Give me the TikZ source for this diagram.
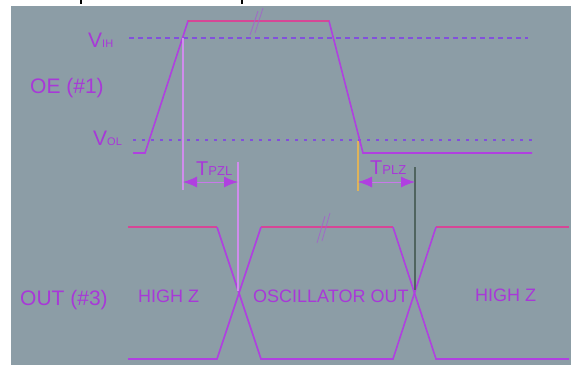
\documentclass[tikz,border=0pt]{standalone}
\usepackage{fontspec}
\setmainfont{Liberation Sans}
\usetikzlibrary{arrows.meta}
\definecolor{bg}{RGB}{140,157,166}
\definecolor{sig}{RGB}{176,64,224}
\definecolor{sigtop}{RGB}{214,70,150}
\definecolor{txt}{RGB}{168,56,216}
\definecolor{dash}{RGB}{130,80,220}
\definecolor{darkref}{RGB}{80,100,95}
\newcommand{\fs}[1]{\fontsize{#1}{#1}\selectfont}
\begin{document}
\begin{tikzpicture}[x=1pt,y=-1pt,
  sigline/.style={draw=sig,line width=1.6pt,line join=miter},
  hiline/.style={draw=sigtop,line width=1.8pt},
  refline/.style={draw=sig!60!white,line width=1.1pt},
  darkline/.style={draw=darkref,line width=1.1pt},
  vihline/.style={draw=dash,line width=1.2pt,dash pattern=on 5pt off 4pt},
  volline/.style={draw=dash,line width=1.2pt,dash pattern=on 3pt off 6pt},
  breakmark/.style={draw=sig!55!bg,line width=0.8pt},
  meas/.style={draw=sig!70!white,line width=1pt,{Latex[length=14pt,width=11pt,color=sig]}-{Latex[length=14pt,width=11pt,color=sig]}},
  lbl/.style={text=txt,inner sep=0pt,anchor=base west}]
\useasboundingbox (0,0) rectangle (571,365);
\fill[white] (0,0) rectangle (571,365);
\fill[bg] (11,6) rectangle (571,365);
\fill[black] (79.5,0) rectangle (81.5,4);
\fill[black] (240.5,0) rectangle (242.5,4);

% reference levels
\draw[vihline] (129,38) -- (528,38);
\draw[volline] (133,140) -- (532,140);

% OE waveform
\draw[sigline] (133,153) -- (145,153) -- (188,21) -- (329,21) -- (363,153) -- (532,153);
\draw[hiline] (188,21) -- (329,21);
\draw[breakmark] (250,35) -- (258,11);
\draw[breakmark] (255,33) -- (263,8);

% OUT waveform
\draw[hiline] (128,227) -- (217,227);
\draw[hiline] (261,227) -- (393,227);
\draw[hiline] (436,227) -- (569,227);
\draw[sigline] (128,359) -- (217,359) -- (261,227);
\draw[sigline] (217,227) -- (261,359) -- (393,359) -- (436,227);
\draw[sigline] (393,227) -- (436,359) -- (569,359);
\draw[breakmark] (317,243) -- (325,216);
\draw[breakmark] (322,241) -- (330,213);

% timing references
\coordinate (a1) at (183,38);
\coordinate (a2) at (183,190);
\coordinate (b1) at (238,162);
\coordinate (b2) at (238,291);
\coordinate (c1) at (358,141);
\coordinate (c2) at (358,191);
\coordinate (d1) at (415,167);
\coordinate (d2) at (415,290);
\draw[refline] (a1) -- (a2);
\draw[refline] (b1) -- (b2);
\draw[draw=sig!40!yellow,line width=1.1pt] (c1) -- (c2);
\draw[darkline] (d1) -- (d2);
\coordinate (m1) at (183,182);
\coordinate (m2) at (238,182);
\coordinate (m3) at (358,182);
\coordinate (m4) at (415,182);
\draw[meas] (m1) -- (m2);
\draw[meas] (m3) -- (m4);

% labels
\node[lbl] (vih) at (88,47) {\fs{21}V\fs{11}IH};
\node[lbl] (vol) at (93,145) {\fs{21}V\fs{11}OL};
\node[lbl] (oe) at (30,93) {\fs{21}OE (\#1)};
\node[lbl] (out) at (20,305) {\fs{21}OUT (\#3)};
\node[lbl] (tpzl) at (196,175) {\fs{20}T\fs{13}PZL};
\node[lbl] (tplz) at (370,174) {\fs{20}T\fs{13}PLZ};
\node[lbl] (hz1) at (138,302) {\fs{18}HIGH Z};
\node[lbl] (osc) at (253,302) {\fs{18}OSCILLATOR OUT};
\node[lbl] (hz2) at (475,301) {\fs{18}HIGH Z};
\end{tikzpicture}
\end{document}
